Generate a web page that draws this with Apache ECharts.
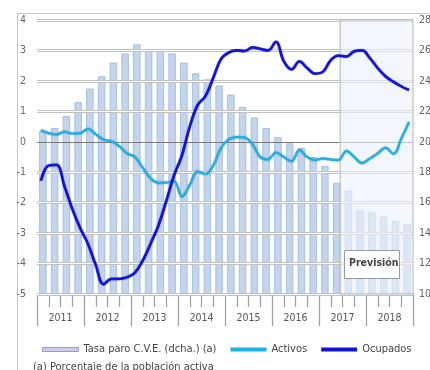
<!DOCTYPE html>
<html>
<head>
<meta charset="utf-8">
<script src="https://cdn.jsdelivr.net/npm/echarts@6/dist/echarts.min.js"></script>
<style>
  html, body { margin: 0; padding: 0; background: #fff; }
  #chart { width: 430px; height: 370px; }
</style>
</head>
<body>
<div id="chart"></div>
<script>
// años y trimestres (eje de barras)
const years = ['2011', '2012', '2013', '2014', '2015', '2016', '2017', '2018'];
const quarters = [];
years.forEach(y => ['T1', 'T2', 'T3', 'T4'].forEach(q => quarters.push(y + q)));

// meses (cada dos) para las líneas
const months = [];
years.forEach(y => ['ene', 'mar', 'may', 'jul', 'sep', 'nov'].forEach(m => months.push(m + '-' + y)));

// Tasa de paro C.V.E. (% población activa), eje derecho
const tasaParo = [
  20.7, 20.9, 21.7, 22.6, 23.5, 24.3, 25.2, 25.8,
  26.4, 26.0, 26.0, 25.8, 25.2, 24.5, 24.1, 23.7,
  23.1, 22.3, 21.6, 20.9, 20.3, 19.9, 19.6, 19.0,
  18.4, 17.3, 16.8, 15.5, 15.4, 15.1, 14.8, 14.6
];

// Activos (var. interanual %), eje izquierdo
const activos = [
  0.38, 0.28, 0.24, 0.33, 0.27, 0.28, 0.42, 0.25,
  0.07, 0.02, -0.15, -0.38, -0.5, -0.85, -1.2, -1.35,
  -1.34, -1.3, -1.8, -1.42, -0.98, -1.06, -0.78, -0.2,
  0.08, 0.16, 0.14, -0.08, -0.5, -0.58, -0.35, -0.5,
  -0.64, -0.27, -0.5, -0.6, -0.55, -0.58, -0.6, -0.3,
  -0.5, -0.7, -0.55, -0.38, -0.2, -0.4, 0.1, 0.65
];

// Ocupados (var. interanual %), eje izquierdo
const ocupados = [
  -1.28, -0.78, -0.76, -1.45, -2.2, -2.83, -3.35, -4.05,
  -4.68, -4.5, -4.5, -4.45, -4.3, -3.9, -3.35, -2.75,
  -1.95, -1.1, -0.45, 0.5, 1.2, 1.5, 2.1, 2.72,
  2.93, 3.0, 2.98, 3.1, 3.05, 3.0, 3.28, 2.65,
  2.38, 2.64, 2.42, 2.24, 2.3, 2.68, 2.83, 2.8,
  2.97, 3.0, 2.75, 2.42, 2.15, 1.97, 1.82, 1.7
];

const leftTicks = { min: -5, max: 4, interval: 1 };
const rightTicks = { min: 10, max: 28, interval: 2 };
const prevision = [25.8, 32]; // en trimestres desde 2011T1

const gridValues = [];
for (let v = leftTicks.min; v <= leftTicks.max; v += leftTicks.interval) gridValues.push(v);

const FONT = "'Liberation Sans Narrow', 'DejaVu Sans Condensed', 'Liberation Sans', sans-serif";
const BAR_NAME = 'Tasa paro C.V.E. (dcha.) (a)';
const TICK = { color: '#a2a2a2', width: 1.3 };

// líneas de rejilla por encima de las barras (gris con centro blanco)
const gridLineSeries = (color, width, z) => ({
  type: 'line', xAxisIndex: 3, yAxisIndex: 0, data: [], z: z,
  markLine: {
    silent: true, symbol: 'none', z: z,
    label: { show: false },
    lineStyle: { color: color, width: width, type: 'solid' },
    data: gridValues.filter(v => v !== 0).map(v => ({ yAxis: v }))
  }
});

const chart = echarts.init(document.getElementById('chart'));

chart.setOption({
  animation: false,
  backgroundColor: '#fff',
  textStyle: { fontFamily: FONT },
  grid: { left: 37, right: 17, top: 20, bottom: 76, outerBoundsMode: 'none', containLabel: false },
  legend: {
    left: 37,
    top: 339,
    itemWidth: 36,
    itemHeight: 4,
    itemGap: 14,
    textStyle: { fontSize: 11, color: '#444', fontFamily: FONT },
    data: [
      { name: BAR_NAME, icon: 'rect', itemStyle: { color: '#cbcbeb', borderColor: '#9c9cc8', borderWidth: 1 } },
      { name: 'Activos', icon: 'rect' },
      { name: 'Ocupados', icon: 'rect' }
    ]
  },
  xAxis: [
    {
      type: 'category', data: quarters, position: 'bottom',
      axisLine: { show: false, onZero: false },
      axisTick: { show: false },
      axisLabel: { show: false }
    },
    {
      type: 'category', data: years, position: 'bottom',
      axisLine: { show: false, onZero: false },
      axisTick: { show: false },
      axisLabel: { margin: 19, fontSize: 10.5, color: '#555', fontFamily: FONT }
    },
    {
      type: 'category', data: months, position: 'bottom',
      axisLine: { show: false, onZero: false },
      axisTick: { show: false },
      axisLabel: { show: false }
    },
    {
      // marcas de año (largas) y de trimestre (cortas)
      type: 'value', min: 0, max: 32, interval: 4, position: 'bottom',
      axisLine: { show: false, onZero: false },
      axisTick: { show: true, length: 32, lineStyle: TICK },
      minorTick: { show: true, splitNumber: 4, length: 13, lineStyle: TICK },
      axisLabel: { show: false },
      splitLine: { show: false }
    }
  ],
  yAxis: [
    {
      type: 'value', position: 'left',
      min: leftTicks.min, max: leftTicks.max, interval: leftTicks.interval,
      axisLine: { show: false },
      axisTick: { show: false },
      axisLabel: { margin: 11, fontSize: 10.5, color: '#666', fontFamily: FONT },
      splitLine: { show: false }
    },
    {
      type: 'value', position: 'right',
      min: rightTicks.min, max: rightTicks.max, interval: rightTicks.interval,
      axisLine: { show: false },
      axisTick: { show: false },
      axisLabel: { margin: 6, fontSize: 10.5, color: '#666', fontFamily: FONT },
      splitLine: { show: false }
    }
  ],
  series: [
    {
      name: BAR_NAME,
      type: 'bar',
      xAxisIndex: 0,
      yAxisIndex: 1,
      data: tasaParo,
      barWidth: '64%',
      itemStyle: { color: '#c3d5ed', borderColor: '#a9bfdc', borderWidth: 1 },
      z: 2
    },
    gridLineSeries('#c2c2c2', 3, 3),
    gridLineSeries('#ffffff', 1, 3.1),
    {
      name: 'cero',
      type: 'line', xAxisIndex: 3, yAxisIndex: 0, data: [], z: 3.2,
      markLine: {
        silent: true, symbol: 'none', z: 3.2,
        label: { show: false },
        lineStyle: { color: '#7a7a7a', width: 1, type: 'solid' },
        data: [{ yAxis: 0 }]
      }
    },
    {
      name: 'previsión',
      type: 'line',
      xAxisIndex: 3,
      yAxisIndex: 0,
      data: [],
      z: 3.5,
      markArea: {
        silent: true,
        z: 3.5,
        itemStyle: { color: 'rgba(236,242,251,0.62)', borderColor: '#b5b5b5', borderWidth: 1 },
        data: [[{ xAxis: prevision[0] }, { xAxis: prevision[1] }]]
      }
    },
    {
      name: 'Activos',
      type: 'line',
      xAxisIndex: 2,
      yAxisIndex: 0,
      data: activos,
      smooth: 0.4,
      symbol: 'none',
      lineStyle: { color: '#1fb0e4', width: 2.5, shadowColor: 'rgba(0,0,0,0.25)', shadowBlur: 2 },
      itemStyle: { color: '#1fb0e4' },
      z: 4
    },
    {
      name: 'Ocupados',
      type: 'line',
      xAxisIndex: 2,
      yAxisIndex: 0,
      data: ocupados,
      smooth: 0.4,
      symbol: 'none',
      lineStyle: { color: '#1414d4', width: 2.8, shadowColor: 'rgba(0,0,0,0.25)', shadowBlur: 2 },
      itemStyle: { color: '#1414d4' },
      z: 5
    }
  ],
  graphic: [
    // marco
    { type: 'line', shape: { x1: 17, y1: 13.5, x2: 430, y2: 13.5 }, style: { stroke: '#c8c8c8', lineWidth: 1 } },
    { type: 'line', shape: { x1: 17.5, y1: 13, x2: 17.5, y2: 370 }, style: { stroke: '#c8c8c8', lineWidth: 1 } },
    // recuadro Previsión
    {
      type: 'rect', left: 344, top: 250, z: 10,
      shape: { width: 55, height: 28 },
      style: { fill: '#fff', stroke: '#9a9a9a', lineWidth: 1 }
    },
    {
      type: 'text', left: 349, top: 258, z: 11,
      style: { text: 'Previsión', fill: '#444', font: 'bold 10.5px ' + FONT }
    },
    // nota
    {
      type: 'text', left: 33, top: 362,
      style: { text: '(a) Porcentaje de la población activa', fill: '#444', font: '11px ' + FONT }
    }
  ]
});
</script>
</body>
</html>
